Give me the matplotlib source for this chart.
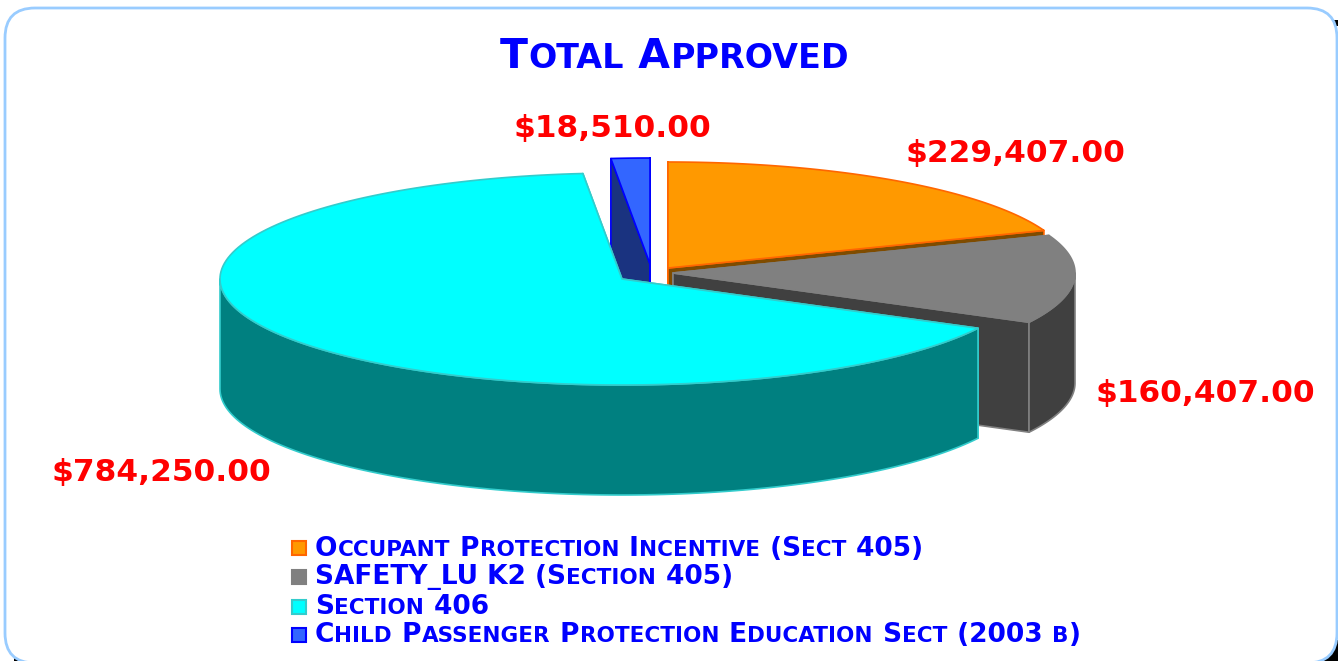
import re

import numpy as np
import matplotlib

matplotlib.use("Agg")
import matplotlib.pyplot as plt
from matplotlib.patches import FancyBboxPatch, Polygon, Rectangle

W, H = 1338, 661

TITLE = "Total Approved"
CATEGORIES = [
    "Occupant Protection Incentive (Sect 405)",
    "SAFETY_LU K2 (Section 405)",
    "Section 406",
    "Child Passenger Protection Education Sect (2003 b)",
]
VALUES = [229407.00, 160407.00, 784250.00, 18510.00]

TOP_COLORS = ["#FF9900", "#808080", "#00FFFF", "#3366FF"]
SIDE_COLORS = ["#7F4C00", "#404040", "#008080", "#1A3380"]
EDGE_COLORS = ["#FF6600", "#808080", "#33CCCC", "#0000FF"]

# pixel layout of the exploded slices
APEX = [(668, 268), (673, 273), (622, 279), (650, 264)]
RX, RY, DEPTH = 402, 106, 110
LABEL_POS = [(906, 162), (1095, 402), (52, 481), (514, 137)]
LEGEND_ROWS = [556, 584, 614, 642]
SWATCH_ROWS = [548, 577, 607, 635]


def rim(apex, t):
    return np.column_stack([apex[0] + RX * np.sin(t), apex[1] - RY * np.cos(t)])


def draw_slice(ax, apex, t0, t1, top, side, edge):
    cut_a = np.array([apex, rim(apex, np.array([t0]))[0]])
    cut_b = np.array([apex, rim(apex, np.array([t1]))[0]])
    for cut in (cut_a, cut_b):
        face = np.vstack([cut, cut[::-1] + [0, DEPTH]])
        ax.add_patch(Polygon(face, fc=side, ec=edge, lw=1.2, joinstyle="round"))
    # outer wall, only the part facing the viewer
    lo, hi = max(t0, np.pi / 2), min(t1, 3 * np.pi / 2)
    if lo < hi:
        arc = rim(apex, np.linspace(lo, hi, 120))
        wall = np.vstack([arc, arc[::-1] + [0, DEPTH]])
        ax.add_patch(Polygon(wall, fc=side, ec=edge, lw=1.2, joinstyle="round"))
    arc = rim(apex, np.linspace(t0, t1, 160))
    ax.add_patch(Polygon(np.vstack([[apex], arc]), fc=top, ec=edge, lw=1.2, joinstyle="round"))


def small_caps(ax, fig, x, y, s, big, small, color):
    # the original face is a small caps one: lower case runs become smaller capitals
    renderer = fig.canvas.get_renderer()
    for run in re.findall(r"[a-z]+|[^a-z]+", s):
        lower = run.islower()
        txt = ax.text(x, y, run.upper() if lower else run, fontsize=small if lower else big,
                      fontweight="bold", color=color, ha="left", va="baseline")
        x += txt.get_window_extent(renderer).width + (1 if lower else 0)


def main():
    plt.rcParams["font.family"] = ["DejaVu Sans"]
    fig = plt.figure(figsize=(W / 100, H / 100), dpi=100, facecolor="white")
    ax = fig.add_axes([0, 0, 1, 1])
    ax.set_xlim(0, W)
    ax.set_ylim(H, 0)
    ax.axis("off")

    # bits of the dark page showing behind the rounded panel
    for corner in [(1318, 640, 20, 21), (14, 657, 5, 4), (1334, 20, 4, 6)]:
        ax.add_patch(Rectangle(corner[:2], corner[2], corner[3], fc="black", ec="none"))
    ax.add_patch(FancyBboxPatch((5, 8), W - 6, H - 6, boxstyle="round,pad=0,rounding_size=30",
                                fc="white", ec="#99CCFF", lw=2))

    total = sum(VALUES)
    ends = np.cumsum(VALUES) / total * 2 * np.pi
    starts = np.concatenate([[0], ends[:-1]])

    for i in (3, 0, 1, 2):
        draw_slice(ax, APEX[i], starts[i], ends[i], TOP_COLORS[i], SIDE_COLORS[i], EDGE_COLORS[i])

    small_caps(ax, fig, 500, 68, TITLE, 29.5, 24, "#0000FF")

    for val, (lx, ly) in zip(VALUES, LABEL_POS):
        ax.text(lx, ly, f"${val:,.2f}", fontsize=22.5, fontweight="bold", color="#FF0000",
                ha="left", va="baseline")

    for i, name in enumerate(CATEGORIES):
        ax.add_patch(Rectangle((292, SWATCH_ROWS[i] - 7), 14, 14, fc=TOP_COLORS[i],
                               ec=EDGE_COLORS[i], lw=1.5))
        small_caps(ax, fig, 315, LEGEND_ROWS[i], name, 19, 15.5, "#0000FF")

    fig.savefig("out.png", dpi=100, facecolor="white")


if __name__ == "__main__":
    main()
